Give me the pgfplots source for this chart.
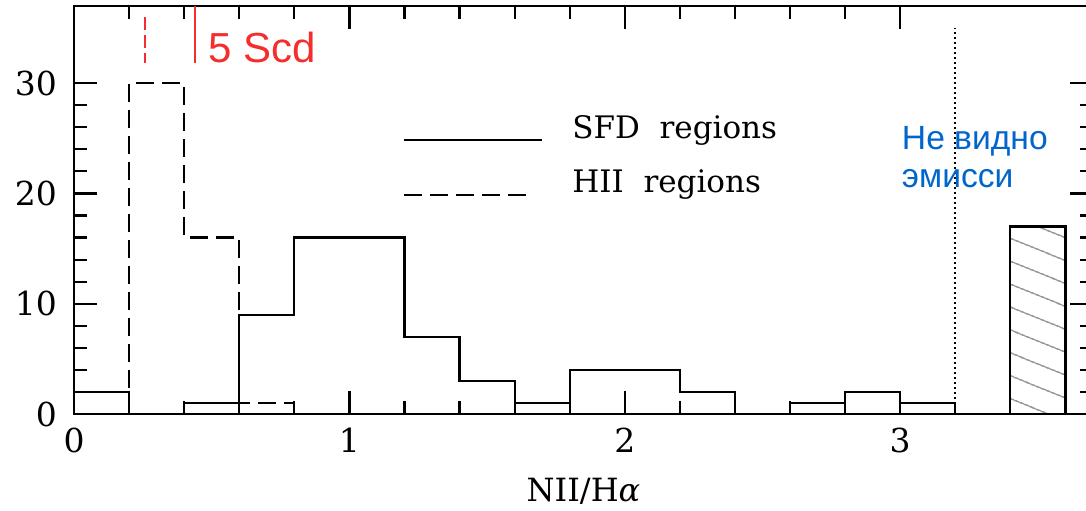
\documentclass[border=0pt]{standalone}
\usepackage{fontspec}
\setmainfont{DejaVu Serif}
\newfontfamily\sansf{Liberation Sans}
\usepackage{pgfplots}
\pgfplotsset{compat=1.18}
\usetikzlibrary{patterns.meta}
\definecolor{myred}{RGB}{245,45,45}
\definecolor{myblue}{RGB}{0,102,204}
\begin{document}
\begin{tikzpicture}
\begin{axis}[
 scale only axis, width=509.5pt, height=204pt,
 xmin=0, xmax=3.7, ymin=0, ymax=37,
 xtick={0,1,2,3}, ytick={0,10,20,30},
 minor x tick num=4, minor y tick num=4,
 tick align=inside,
 major tick length=11.5pt, minor tick length=6.5pt,
 axis line style={line width=1.1pt},
 tick style={black, line width=1.1pt},
 /pgf/number format/assume math mode=true,
 tick label style={font=\fontsize{16.5}{19}\selectfont},
 xticklabel style={yshift=-3.5pt},
 yticklabel style={xshift=-5pt},
 xlabel={NII/H\textit{α}},
 xlabel style={font=\fontsize{16}{19}\selectfont, at={(axis description cs:0.5,0)}, anchor=base, yshift=-44pt},
 clip=false,
]
% SFD regions
\addplot[const plot, line width=1.1pt] coordinates {(0,2)(0.2,0)(0.4,1)(0.6,9)(0.8,16)(1.0,16)(1.2,7)(1.4,3)(1.6,1)(1.8,4)(2.0,4)(2.2,2)(2.4,0)(2.6,1)(2.8,2)(3.0,1)(3.2,0)};
% HII regions
\addplot[const plot, line width=1.1pt, dash pattern=on 9pt off 4pt] coordinates {(0.2,0)(0.2,30)(0.4,16)(0.6,1)(0.8,0)};
% hatched bar
\addplot[line width=1.1pt, pattern={Lines[angle=-22,distance=10.5pt,line width=0.8pt]}, pattern color=black!40] coordinates {(3.4,17)(3.6,17)} \closedcycle;
% dotted vertical line
\addplot[line width=1pt, dash pattern=on 1.2pt off 1.3pt] coordinates {(3.2,0)(3.2,35)};
% red marks
\addplot[myred, line width=1.1pt] coordinates {(0.44,31.85)(0.44,37)};
\addplot[myred, line width=1.1pt, dash pattern=on 6.5pt off 2.5pt] coordinates {(0.258,36)(0.258,31.85)};
% legend lines
\addplot[line width=1.1pt] coordinates {(1.2,24.87)(1.7,24.87)};
\addplot[line width=1.1pt, dash pattern=on 9pt off 4pt] coordinates {(1.2,19.87)(1.67,19.87)};
\node[anchor=base west, inner sep=0pt, font=\fontsize{15.5}{18}\selectfont] at (axis cs:1.808,24.95) {SFD\ \ regions};
\node[anchor=base west, inner sep=0pt, font=\fontsize{15.5}{18}\selectfont] at (axis cs:1.808,20.05) {HII\ \ regions};
\node[anchor=base west, inner sep=0pt, font=\sansf\fontsize{16.8}{20}\selectfont, text=myblue] at (axis cs:3.005,23.96) {Не видно};
\node[anchor=base west, inner sep=0pt, font=\sansf\fontsize{16.8}{20}\selectfont, text=myblue] at (axis cs:3.005,20.5) {эмисси};
\node[anchor=base west, inner sep=0pt, font=\sansf\fontsize{21}{25}\selectfont, text=myred] at (axis cs:0.486,31.85) {5 Scd};
\end{axis}
\pgfresetboundingbox
\path[use as bounding box] ([shift={(-37pt,-48.5pt)}]current axis.south west) rectangle ([shift={(-3.5pt,3pt)}]current axis.north east);
\end{tikzpicture}
\end{document}
